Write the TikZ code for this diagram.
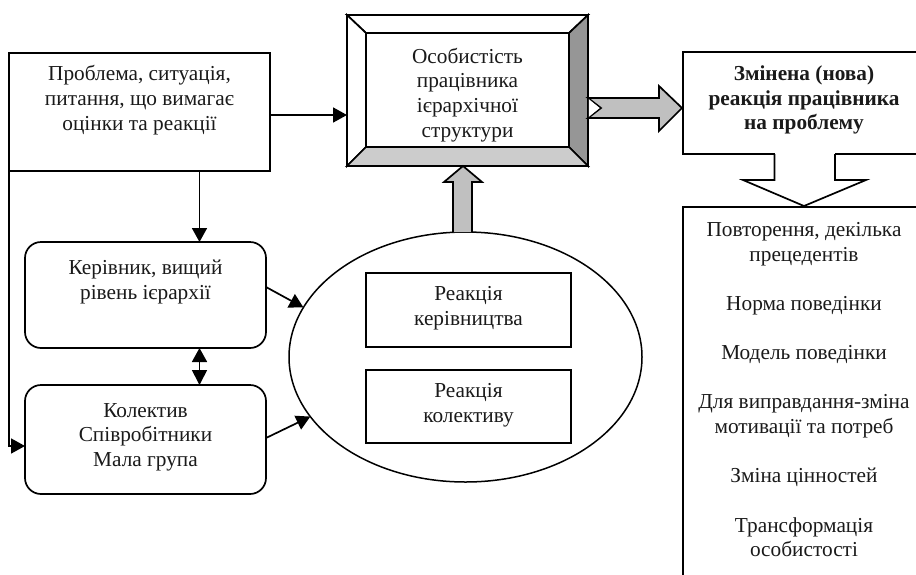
\documentclass[tikz,border=0pt]{standalone}
\usepackage{fontspec}
\setmainfont{Liberation Serif}
\usetikzlibrary{arrows.meta,shapes.geometric,calc}
\definecolor{arrowgray}{HTML}{C0C0C0}
\definecolor{bevellight}{HTML}{CCCCCC}
\definecolor{beveldark}{HTML}{969696}
\definecolor{inktext}{HTML}{1A1A1A}
\tikzset{
  every node/.style={font=\fontsize{21.3}{24.7}\selectfont,text=inktext,inner sep=0pt,outer sep=0pt,align=center},
  boxn/.style={draw=black,line width=1.7pt,fill=white,rectangle},
  rbox/.style={boxn,rounded corners=16pt},
  conn/.style={draw=black,line width=1.7pt,-{Triangle[length=14pt,width=15pt]}},
  block/.style={draw=black,line width=1.7pt,fill=arrowgray,line join=miter},
  bevel/.style={draw=black,line width=1.7pt,line join=miter},
}
\begin{document}
\begin{tikzpicture}[x=1pt,y=-1pt]
\useasboundingbox (0,0) rectangle (916,574);
\clip (0,0) rectangle (916,574);
% ellipse and inner boxes
\node[draw=black,line width=1.5pt,fill=white,ellipse,minimum width=353pt,minimum height=250pt] (oval) at (465.5,357) {};
\node[boxn,minimum width=205pt,minimum height=74pt] (rboss) at (468.5,310) {Реакція\\керівництва\\[-16.5pt]};
\node[boxn,minimum width=205pt,minimum height=73pt] (rteam) at (468.5,406.5) {Реакція\\колективу\\[-17.5pt]};
% left boxes
\node[boxn,minimum width=261pt,minimum height=118pt] (prob) at (139.5,112) {Проблема, ситуація,\\питання, що вимагає\\оцінки та реакції\\[3.5pt]};
\node[rbox,minimum width=241pt,minimum height=106pt] (boss) at (145.5,295) {Керівник, вищий\\рівень ієрархії\\[6.5pt]};
\node[rbox,minimum width=241pt,minimum height=109pt] (team) at (145.5,439.5) {Колектив\\Співробітники\\Мала група\\[-15.5pt]};
% framed personality box
\node[boxn,minimum width=241pt,minimum height=151pt] (frame) at (467.5,90.5) {};
\draw[bevel,fill=white] (frame.north west) -- (frame.north east) -- (569,33) -- (366,33) -- cycle;
\draw[bevel,fill=white] (frame.north west) -- (366,33) -- (366,147) -- (frame.south west) -- cycle;
\draw[bevel,fill=beveldark] (frame.north east) -- (569,33) -- (569,147) -- (frame.south east) -- cycle;
\draw[bevel,fill=bevellight] (frame.south west) -- (366,147) -- (569,147) -- (frame.south east) -- cycle;
\node[boxn,minimum width=203pt,minimum height=114pt] (pers) at (467.5,90) {Особистість\\працівника\\ієрархічної\\структури\\[-29.7pt]};
% right boxes
\node[boxn,minimum width=242pt,minimum height=102pt] (chg) at (804,103) {\textbf{Змінена (нова)}\\\textbf{реакція працівника}\\\textbf{на проблему}\\[-14.5pt]};
\node[boxn,minimum width=242pt,minimum height=413pt] (res) at (804,413.5) {Повторення, декілька\\прецедентів\\[24.5pt]Норма поведінки\\[24.5pt]Модель поведінки\\[24.5pt]Для виправдання-зміна\\мотивації та потреб\\[24.5pt]Зміна цінностей\\[24.5pt]Трансформація\\особистості\\[23pt]};
% block arrows
\draw[block] (588,98) -- (659,98) -- (659,86) -- (682,108) -- (659,131) -- (659,118) -- (588,118) -- (601,108) -- cycle;
\fill[white] (588.9,99.2) -- (599.6,108) -- (588.9,116.8) -- cycle;
\draw[block] (453,232) -- (453,182) -- (444,182) -- (463,166) -- (482,182) -- (472,182) -- (472,232);
\fill[white] (775,153) rectangle (834.5,156);
\fill[white] (775,154) -- (775,180) -- (743,180) -- (804,206) -- (866,180) -- (835,180) -- (835,154) -- cycle;
\draw[line width=1.7pt,line join=miter] (774.5,154) -- (774.5,180) -- (743,180) -- (804,206) -- (866,180) -- (835,180) -- (835,154);
% connectors
\draw[conn] (prob.east |- 0,115) -- (frame.west |- 0,115);
\draw[conn] ($(prob.south -| boss.north)+(54,0)$) -- ($(boss.north)+(54,0)$);
\draw[draw=black,line width=1.7pt,{Triangle[length=14pt,width=15pt]}-{Triangle[length=15pt,width=15pt]}] ($(boss.south)+(54,0)$) -- ($(team.north)+(54,0)$);
\draw[conn] (boss.east |- 0,287) -- (oval.163.5);
\draw[conn] (team.east |- 0,438) -- (oval.201);
\draw[conn] (prob.south west) -- (9,446) -- (team.west |- 0,446);
\end{tikzpicture}
\end{document}
